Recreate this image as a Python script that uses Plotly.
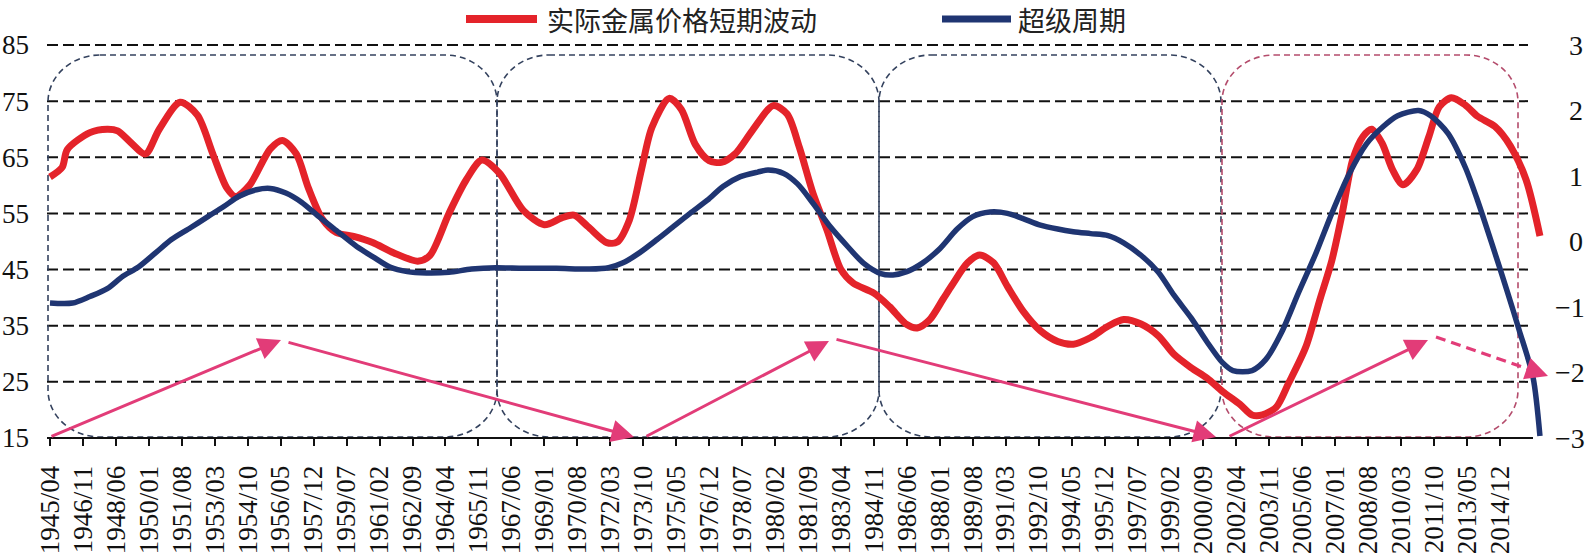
import plotly.graph_objects as go

# ---------------- data ----------------
TICK_LABELS = ["1945/04","1946/11","1948/06","1950/01","1951/08","1953/03","1954/10","1956/05",
               "1957/12","1959/07","1961/02","1962/09","1964/04","1965/11","1967/06","1969/01",
               "1970/08","1972/03","1973/10","1975/05","1976/12","1978/07","1980/02","1981/09",
               "1983/04","1984/11","1986/06","1988/01","1989/08","1991/03","1992/10","1994/05",
               "1995/12","1997/07","1999/02","2000/09","2002/04","2003/11","2005/06","2007/01",
               "2008/08","2010/03","2011/10","2013/05","2014/12"]

RED_DATES = ["1945/04","1945/11","1946/02","1947/03","1948/01","1948/07","1949/03","1949/11",
             "1950/07","1951/07","1952/05","1953/02","1953/10","1954/03","1954/11","1955/11",
             "1956/06","1957/02","1957/09","1958/05","1959/01","1959/11","1960/10","1961/10",
             "1962/12","1963/07","1964/06","1965/04","1966/01","1966/11","1968/01","1969/01",
             "1969/11","1970/06","1971/02","1972/01","1972/07","1973/02","1973/09","1974/03",
             "1975/01","1975/08","1976/04","1976/12","1977/07","1978/03","1979/01","1980/01",
             "1980/09","1981/04","1981/12","1982/08","1983/04","1983/11","1984/11","1985/08",
             "1986/06","1986/12","1987/07","1988/03","1988/08","1989/05","1989/12","1990/08",
             "1991/04","1992/01","1992/11","1993/09","1994/06","1995/04","1996/02","1996/11",
             "1997/09","1998/07","1999/04","2000/02","2000/11","2001/08","2002/06","2003/01",
             "2003/07","2004/03","2004/10","2005/08","2006/04","2006/11","2007/05","2007/11",
             "2008/05","2008/10","2009/04","2009/10","2010/04","2010/12","2011/07","2012/01",
             "2012/08","2013/04","2013/11","2014/09","2015/06","2016/03","2016/11"]
RED_VALUES = [61.5, 63.2, 66.4, 69.4, 70.0, 69.7, 67.5, 65.6,
              70.0, 74.8, 72.5, 65.5, 59.5, 58.0, 60.0, 66.5,
              68.0, 65.6, 59.5, 54.0, 51.6, 50.9, 49.8, 48.0,
              46.5, 47.5, 55.0, 61.0, 64.5, 62.2, 55.5, 53.0,
              54.2, 54.7, 52.7, 49.8, 49.9, 53.8, 62.8, 70.3,
              75.5, 73.5, 67.3, 64.4, 64.1, 65.6, 69.8, 74.2,
              72.7, 66.8, 58.5, 52.0, 45.0, 42.6, 40.8, 38.4,
              35.2, 34.6, 36.0, 39.8, 42.2, 46.2, 47.6, 46.2,
              42.0, 37.6, 34.1, 32.2, 31.7, 32.9, 34.9, 36.1,
              35.3, 33.2, 29.9, 27.5, 25.7, 23.3, 21.0, 19.1,
              19.1, 20.5, 24.7, 31.2, 39.5, 46.6, 55.0, 64.5,
              68.7, 70.0, 67.5, 62.8, 60.1, 62.8, 68.7, 74.0,
              75.6, 74.3, 72.3, 70.5, 67.0, 61.0, 51.0]

BLUE_DATES = ["1945/04","1946/05","1947/03","1948/01","1948/10","1949/07","1950/05","1951/02",
              "1952/01","1952/11","1953/08","1954/05","1955/03","1955/11","1956/08","1957/05",
              "1958/03","1959/01","1960/01","1960/10","1961/08","1962/06","1963/05","1964/06",
              "1965/07","1966/09","1968/01","1969/08","1971/03","1972/02","1972/10","1973/08",
              "1974/06","1975/03","1976/01","1976/11","1977/08","1978/06","1979/04","1979/10",
              "1980/07","1981/03","1981/12","1982/10","1983/08","1984/05","1985/03","1985/10",
              "1986/06","1987/03","1988/01","1988/11","1989/08","1990/06","1991/04","1992/01",
              "1992/11","1993/09","1994/06","1995/04","1996/02","1996/11","1997/09","1998/07",
              "1999/04","2000/02","2000/11","2001/08","2002/02","2003/01","2003/09","2004/06",
              "2005/04","2006/02","2006/11","2007/09","2008/07","2009/04","2010/01","2011/01",
              "2011/08","2012/06","2013/04","2013/11","2014/08","2015/04","2015/11","2016/07",
              "2016/11"]
BLUE_VALUES = [-0.94, -0.94, -0.84, -0.72, -0.53, -0.39, -0.17, 0.03,
               0.21, 0.38, 0.53, 0.69, 0.79, 0.81, 0.74, 0.60,
               0.38, 0.17, -0.08, -0.23, -0.39, -0.46, -0.48, -0.47,
               -0.42, -0.40, -0.41, -0.41, -0.42, -0.40, -0.33, -0.17,
               0.03, 0.22, 0.43, 0.63, 0.84, 0.99, 1.06, 1.09,
               1.04, 0.88, 0.58, 0.22, -0.08, -0.33, -0.49, -0.51,
               -0.46, -0.33, -0.11, 0.19, 0.38, 0.45, 0.43, 0.35,
               0.25, 0.19, 0.15, 0.12, 0.09, -0.02, -0.21, -0.47,
               -0.82, -1.17, -1.53, -1.85, -1.97, -1.97, -1.80, -1.39,
               -0.77, -0.17, 0.43, 1.03, 1.49, 1.74, 1.92, 2.00,
               1.92, 1.65, 1.13, 0.63, -0.09, -0.75, -1.35, -2.07,
               -2.97]

LEFT_TICKS = [15, 25, 35, 45, 55, 65, 75, 85]
RIGHT_TICKS = [-3, -2, -1, 0, 1, 2, 3]
RED_NAME = "实际金属价格短期波动"
BLUE_NAME = "超级周期"

assert len(RED_DATES) == len(RED_VALUES)
assert len(BLUE_DATES) == len(BLUE_VALUES)


def month_index(s):
    y, m = s.split("/")
    return (int(y) - 1945) * 12 + (int(m) - 4)


red_x = [month_index(d) for d in RED_DATES]
blue_x = [month_index(d) for d in BLUE_DATES]
tick_x = [month_index(d) for d in TICK_LABELS]

# ---------------- layout geometry (pixels) ----------------
W, H = 1586, 554
L, R, T, B = 47, 1550, 45, 438
PXM = 1.7345          # pixels per month
X0 = 50               # pixel of 1945/04
x_range = [(L - X0) / PXM, (R - X0) / PXM]


def PX(px):
    return (px - L) / (R - L)


def PY(py):
    return (B - py) / (B - T)


RED = "#e4232a"
BLUE = "#1f3572"
PINK = "#e23c78"
SERIF = "Liberation Serif"
CJK = "Noto Sans CJK SC"

fig = go.Figure()
fig.add_trace(go.Scatter(x=red_x, y=RED_VALUES, mode="lines", name=RED_NAME,
                         line=dict(color=RED, width=7, shape="spline", smoothing=0.8),
                         yaxis="y"))
fig.add_trace(go.Scatter(x=blue_x, y=BLUE_VALUES, mode="lines", name=BLUE_NAME,
                         line=dict(color=BLUE, width=5.5, shape="spline", smoothing=0.8),
                         yaxis="y2"))

shapes = []
for v in LEFT_TICKS[1:]:
    py = B - (v - 15) / 70 * (B - T)
    shapes.append(dict(type="line", xref="paper", yref="paper", x0=PX(47), x1=PX(1528),
                       y0=PY(py), y1=PY(py), line=dict(color="#111", width=2, dash="11px,5px"),
                       layer="below"))
shapes.append(dict(type="line", xref="paper", yref="paper", x0=PX(47), x1=PX(1533),
                   y0=0, y1=0, line=dict(color="#111", width=2.2), layer="above"))

BOXES = [(48, 497, "#34425e"), (497, 879, "#34425e"), (879, 1221, "#34425e"), (1222, 1518, "#b44c6c")]
BOX_TOP, BOX_BOT = 55, 437
RX, RY = 52, 47
K = 0.55


def rounded_path(x0, x1, top, bot):
    def p(x, y):
        return f"{PX(x):.5f},{PY(y):.5f}"
    d = f"M{p(x0 + RX, top)} L{p(x1 - RX, top)} "
    d += f"C{p(x1 - RX + K * RX, top)} {p(x1, top + RY - K * RY)} {p(x1, top + RY)} "
    d += f"L{p(x1, bot - RY)} "
    d += f"C{p(x1, bot - RY + K * RY)} {p(x1 - RX + K * RX, bot)} {p(x1 - RX, bot)} "
    d += f"L{p(x0 + RX, bot)} "
    d += f"C{p(x0 + RX - K * RX, bot)} {p(x0, bot - RY + K * RY)} {p(x0, bot - RY)} "
    d += f"L{p(x0, top + RY)} "
    d += f"C{p(x0, top + RY - K * RY)} {p(x0 + RX - K * RX, top)} {p(x0 + RX, top)} Z"
    return d


for x0, x1, col in BOXES:
    shapes.append(dict(type="path", xref="paper", yref="paper", path=rounded_path(x0, x1, BOX_TOP, BOX_BOT),
                       line=dict(color=col, width=1.6, dash="6px,4px"), layer="below"))

LEG_Y = 19
shapes.append(dict(type="line", xref="paper", yref="paper", x0=PX(466), x1=PX(537),
                   y0=PY(LEG_Y), y1=PY(LEG_Y), line=dict(color=RED, width=8)))
shapes.append(dict(type="line", xref="paper", yref="paper", x0=PX(942), x1=PX(1011),
                   y0=PY(LEG_Y), y1=PY(LEG_Y), line=dict(color=BLUE, width=7)))

ARROWS = [((50, 437), (281, 340)), ((287, 342), (634, 437)), ((645, 437), (829, 341)),
          ((835, 339), (1216, 437)), ((1228, 437), (1428, 340))]
DASHED_ARROW = ((1436, 337), (1548, 376))

annotations = []
for (tx, ty), (hx, hy) in ARROWS:
    annotations.append(dict(xref="paper", yref="paper", x=PX(hx), y=PY(hy), ax=tx - hx, ay=ty - hy,
                            axref="pixel", ayref="pixel", text="", showarrow=True,
                            arrowhead=2, arrowsize=1.5, arrowwidth=3, arrowcolor=PINK, standoff=0))
(tx, ty), (hx, hy) = DASHED_ARROW
dx, dy = hx - tx, hy - ty
ln = (dx * dx + dy * dy) ** 0.5
ux, uy = dx / ln, dy / ln
shapes.append(dict(type="line", xref="paper", yref="paper", x0=PX(tx), y0=PY(ty),
                   x1=PX(hx - ux * 10), y1=PY(hy - uy * 10),
                   line=dict(color=PINK, width=3.2, dash="10px,6px")))
annotations.append(dict(xref="paper", yref="paper", x=PX(hx), y=PY(hy), ax=-ux * 16, ay=-uy * 16,
                        axref="pixel", ayref="pixel", text="", showarrow=True,
                        arrowhead=2, arrowsize=1.5, arrowwidth=3, arrowcolor=PINK, standoff=0))

annotations.append(dict(xref="paper", yref="paper", x=PX(546), y=PY(20), xanchor="left", yanchor="middle",
                        text=RED_NAME, showarrow=False, borderpad=0,
                        font=dict(family=CJK, size=27, color="#222")))
annotations.append(dict(xref="paper", yref="paper", x=PX(1017), y=PY(20), xanchor="left", yanchor="middle",
                        text=BLUE_NAME, showarrow=False, borderpad=0,
                        font=dict(family=CJK, size=27, color="#222")))

right_text = [("−" + str(abs(v))) if v < 0 else ("\u2007" + str(v)) for v in RIGHT_TICKS]

fig.update_layout(
    template="none",
    width=W, height=H, autosize=False,
    margin=dict(l=L, r=W - R, t=T, b=H - B, pad=0),
    paper_bgcolor="white", plot_bgcolor="white",
    showlegend=False,
    shapes=shapes, annotations=annotations,
    xaxis=dict(range=x_range, tickmode="array", tickvals=tick_x, ticktext=TICK_LABELS,
               tickangle=-90, ticks="outside", ticklen=7, tickwidth=2, tickcolor="#111",
               showgrid=False, zeroline=False, showline=False, automargin=False,
               tickfont=dict(family=SERIF, size=27, color="#111"), ticklabelstandoff=9),
    yaxis=dict(range=[15, 85], tickmode="array", tickvals=LEFT_TICKS, automargin=False,
               showgrid=False, zeroline=False, showline=False, ticks="",
               tickfont=dict(family=SERIF, size=27, color="#111"), ticklabelstandoff=17),
    yaxis2=dict(range=[-3, 3], tickmode="array", tickvals=RIGHT_TICKS, ticktext=right_text,
                overlaying="y", side="right", showgrid=False, zeroline=False, showline=False,
                automargin=False,
                ticks="", tickfont=dict(family=SERIF, size=28, color="#111"), ticklabelstandoff=4),
)

fig.write_html("out.html")
